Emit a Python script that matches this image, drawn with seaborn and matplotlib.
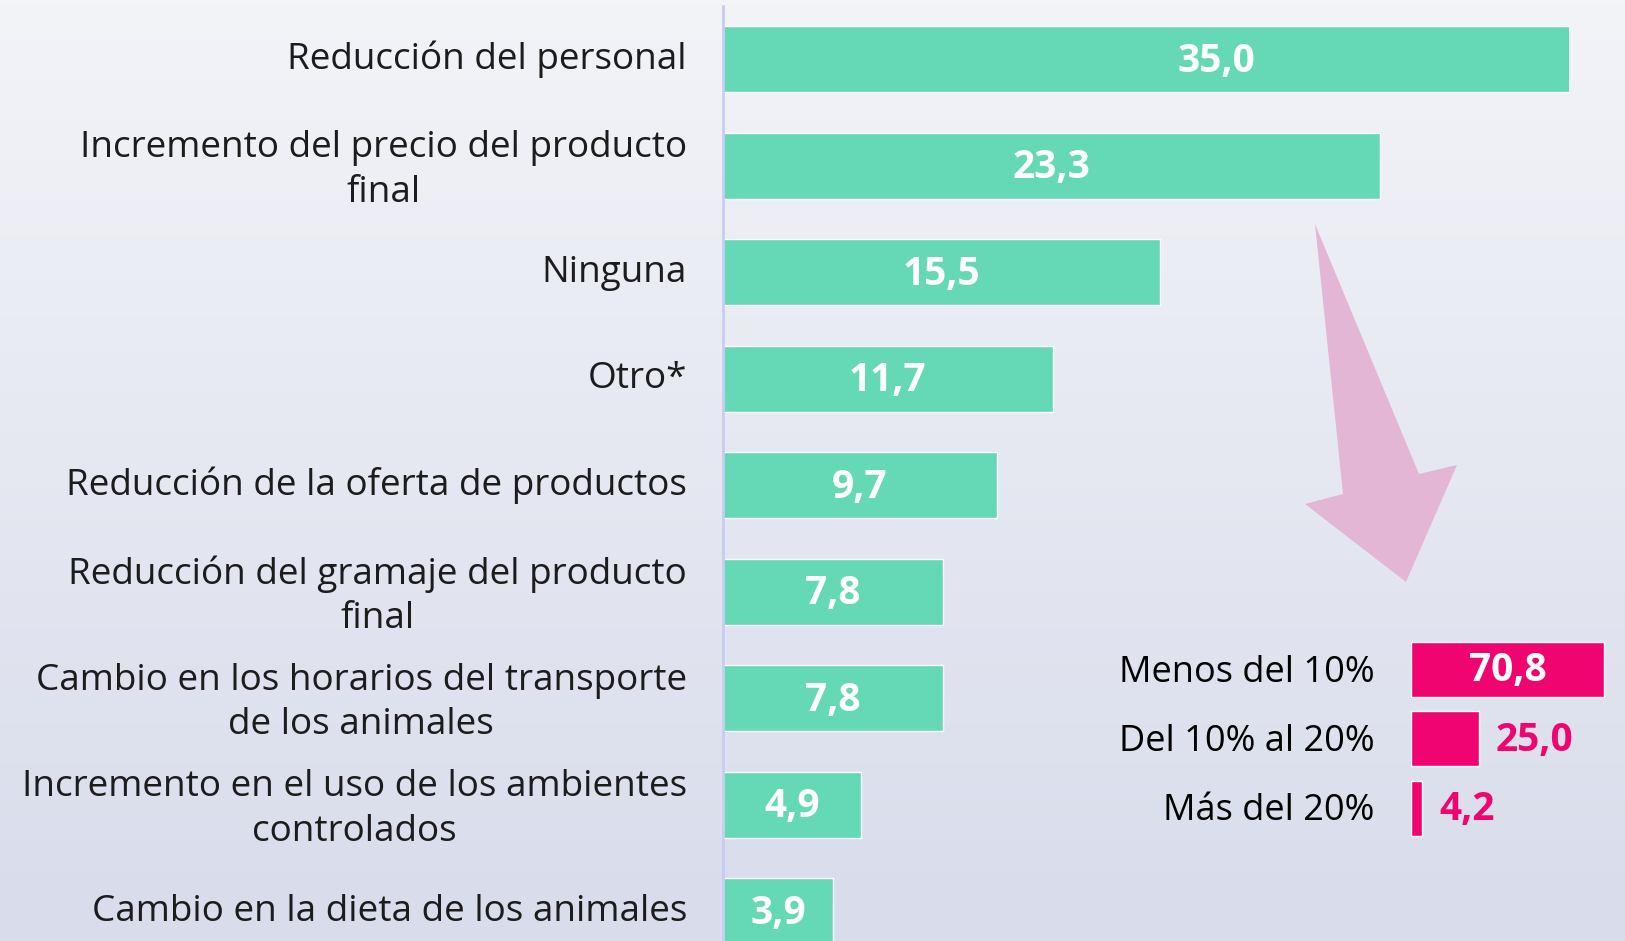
import numpy as np
import pandas as pd
import matplotlib
matplotlib.use("Agg")
import matplotlib.pyplot as plt
import matplotlib.transforms as mtrans
import seaborn as sns
from matplotlib.patches import Polygon

categories = [
    "Reducción del personal",
    "Incremento del precio del producto\nfinal",
    "Ninguna",
    "Otro*",
    "Reducción de la oferta de productos",
    "Reducción del gramaje del producto\nfinal",
    "Cambio en los horarios del transporte\nde los animales",
    "Incremento en el uso de los ambientes\ncontrolados",
    "Cambio en la dieta de los animales",
]
values = [35.0, 23.3, 15.5, 11.7, 9.7, 7.8, 7.8, 4.9, 3.9]

inset_categories = ["Menos del 10%", "Del 10% al 20%", "Más del 20%"]
inset_values = [70.8, 25.0, 4.2]

GREEN = "#65d8b6"
PINK = "#f0046f"
TEXT = "#1c1c1c"

sns.set_theme(style="white")
plt.rcParams["font.family"] = ["Open Sans", "DejaVu Sans"]

W, H = 1625, 941
fig = plt.figure(figsize=(W / 100, H / 100), dpi=100)

# background gradient
bg = fig.add_axes([0, 0, 1, 1])
grad = np.linspace(0, 1, 256).reshape(-1, 1)
top = np.array([243, 244, 248]) / 255
bot = np.array([216, 220, 235]) / 255
img = top[None, None, :] * (1 - grad[:, :, None]) + bot[None, None, :] * grad[:, :, None]
bg.imshow(img, aspect="auto", extent=[0, 1, 0, 1])
bg.set_axis_off()

def px_axes(x0, y0, x1, y1):
    return fig.add_axes([x0 / W, 1 - y1 / H, (x1 - x0) / W, (y1 - y0) / H])

# main chart (the longest bar runs past the right edge and is clipped, as in the original)
ax = px_axes(723, 6, 1569, H)
ax.patch.set_alpha(0)
df = pd.DataFrame({"cat": categories, "val": values})
sns.barplot(data=df, y="cat", x="val", color=GREEN, saturation=1, width=0.62, ax=ax, orient="h")
ax.set_ylim(8.28, -0.5)
ax.set_xlim(0, 30)
for s in ["top", "right", "bottom"]:
    ax.spines[s].set_visible(False)
ax.spines["left"].set_color("#c9ccf4")
ax.spines["left"].set_linewidth(2)
ax.set_xticks([])
ax.set_xlabel("")
ax.set_ylabel("")
ax.tick_params(axis="y", length=0, pad=26)
ax.set_yticks(range(len(categories)))
ax.set_yticklabels(categories, fontsize=26.6, color=TEXT, multialignment="center",
                   linespacing=1.32)
shift_up = mtrans.ScaledTranslation(0, 3 / 72, fig.dpi_scale_trans)
for lbl in ax.get_yticklabels():
    lbl.set_transform(lbl.get_transform() + shift_up)
for p, v in zip(ax.patches, values):
    ax.text(v / 2, p.get_y() + p.get_height() / 2 + 0.02, f"{v:.1f}".replace(".", ","),
            ha="center", va="center", color="white", fontsize=28, fontweight="bold")

# inset chart
ax2 = px_axes(1410.6, 634.8, W, 843)
ax2.patch.set_alpha(0)
df2 = pd.DataFrame({"cat": inset_categories, "val": inset_values})
sns.barplot(data=df2, y="cat", x="val", color=PINK, saturation=1, width=0.79, ax=ax2, orient="h")
ax2.set_ylim(2.5, -0.5)
ax2.set_xlim(0, (W - 1410.6) / 2.736)
for s in ax2.spines.values():
    s.set_visible(False)
ax2.set_xticks([])
ax2.set_xlabel("")
ax2.set_ylabel("")
ax2.tick_params(axis="y", length=0, pad=26)
ax2.set_yticklabels(inset_categories, fontsize=26, color="black")
for lbl in ax2.get_yticklabels():
    lbl.set_transform(lbl.get_transform() + mtrans.ScaledTranslation(0, 1 / 72, fig.dpi_scale_trans))
for p, v in zip(ax2.patches, inset_values):
    lab = f"{v:.1f}".replace(".", ",")
    yc = p.get_y() + p.get_height() / 2 + 0.02
    if v > 50:
        ax2.text(v / 2, yc, lab, ha="center", va="center", color="white", fontsize=28, fontweight="bold")
    else:
        ax2.text(v + 6.2, yc, lab, ha="left", va="center", color=PINK, fontsize=28, fontweight="bold")

# decorative arrow (figure pixel coords)
arrow_px = [(1315, 224), (1419, 474), (1457, 465), (1406, 582), (1305, 504), (1343, 494)]
poly = Polygon([(x / W, 1 - y / H) for x, y in arrow_px], closed=True,
               transform=fig.transFigure, facecolor="#e4b6d6", edgecolor="none", zorder=0)
fig.patches.append(poly)

fig.savefig("out.png", dpi=100)
